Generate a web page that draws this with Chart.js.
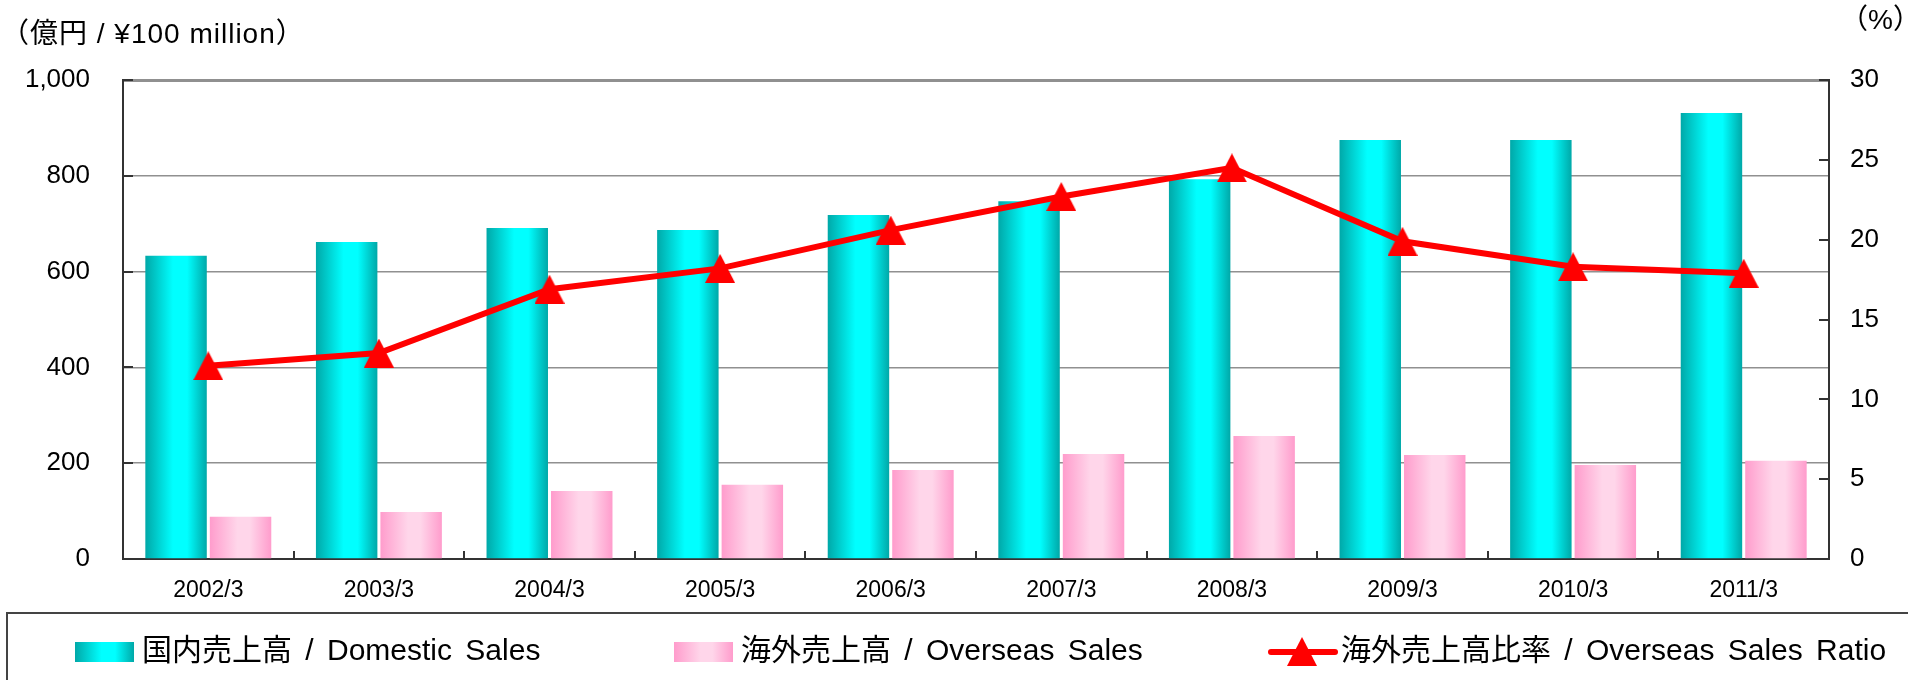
<!DOCTYPE html>
<html>
<head>
<meta charset="utf-8">
<script src="https://cdn.jsdelivr.net/npm/chart.js@4/dist/chart.umd.min.js"></script>
<style>
  body {
    margin: 0;
    width: 1908px;
    height: 680px;
    overflow: hidden;
    position: relative;
    background: #fff;
    font-family: "Liberation Sans", "Noto Sans CJK JP", sans-serif;
    color: #000;
  }
  #salesChart { position: absolute; left: 0; top: 0; }
  .note { position: absolute; font-size: 28px; line-height: 28px; white-space: nowrap; }
  #legendBox {
    position: absolute;
    left: 6px;
    top: 612px;
    width: 1960px;
    height: 120px;
    border: 2px solid #444;
    box-sizing: border-box;
  }
  .item { position: absolute; top: 635px; font-size: 30px; line-height: 30px; word-spacing: 5px; white-space: nowrap; }
  .swatch { position: absolute; top: 642px; width: 59px; height: 20px; }
</style>
</head>
<body>
<canvas id="salesChart" width="1908" height="680"></canvas>

<div class="note" style="left:1px; top:20px; letter-spacing:1px;">（億円 / ¥100 million）</div>
<div class="note" style="left:1840px; top:6px;">（%）</div>

<div id="legendBox"></div>
<div class="swatch" style="left:75px; background:linear-gradient(90deg,#00a8a8 0%,#00ffff 45%,#00ffff 68%,#00a8a8 100%);"></div>
<div class="item" style="left:142px;">国内売上高 / Domestic Sales</div>
<div class="swatch" style="left:674px; background:linear-gradient(90deg,#ff9ccc 0%,#ffd6ea 45%,#ffd6ea 65%,#ff9ccc 100%);"></div>
<div class="item" style="left:741px;">海外売上高 / Overseas Sales</div>
<svg style="position:absolute; left:1268px; top:636px;" width="70" height="32">
  <line x1="3" y1="16" x2="67" y2="16" stroke="#ff0000" stroke-width="6" stroke-linecap="round"/>
  <polygon points="34,1 49,30 19,30" fill="#ff0000"/>
</svg>
<div class="item" style="left:1341px;">海外売上高比率 / Overseas Sales Ratio</div>

<script>
const categories = ["2002/3", "2003/3", "2004/3", "2005/3", "2006/3", "2007/3", "2008/3", "2009/3", "2010/3", "2011/3"];
const domesticSales = [633, 662, 691, 687, 718, 747, 793, 875, 875, 931];
const overseasSales = [88, 98, 142, 155, 186, 219, 257, 217, 196, 205];
const overseasRatio = [12.1, 12.9, 16.9, 18.2, 20.6, 22.7, 24.5, 19.9, 18.3, 17.9];
const salesTicks = [0, 200, 400, 600, 800, 1000];
const ratioTicks = [0, 5, 10, 15, 20, 25, 30];

const catPct = 0.756;
const barPct = 0.953;

const barStops = [
  [[0, "#00a8a8"], [0.45, "#00ffff"], [0.68, "#00ffff"], [1, "#00a8a8"]],
  [[0, "#ff9ccc"], [0.45, "#ffd6ea"], [0.65, "#ffd6ea"], [1, "#ff9ccc"]]
];

// horizontal shading for each bar, placed from the x scale
function shade(c, di) {
  const chart = c.chart;
  const x = chart.scales.x;
  if (!x || c.type !== "data" || !(x.width > 0)) return barStops[di][1][1];
  const cw = x.width / categories.length;
  const slot = cw * catPct / 2;
  const w = slot * barPct;
  const left = x.getPixelForValue(c.dataIndex) - cw * catPct / 2 + di * slot + (slot - w) / 2;
  if (!isFinite(left) || !isFinite(w)) return barStops[di][1][1];
  const g = chart.ctx.createLinearGradient(left, 0, left + w, 0);
  barStops[di].forEach(s => g.addColorStop(s[0], s[1]));
  return g;
}

// triangle marker, centred on its box
const tri = document.createElement("canvas");
tri.width = 30;
tri.height = 29;
const tctx = tri.getContext("2d");
tctx.fillStyle = "#ff0000";
tctx.beginPath();
tctx.moveTo(15, 0);
tctx.lineTo(30, 29);
tctx.lineTo(0, 29);
tctx.closePath();
tctx.fill();

// short tick marks that point into the plot
const innerTicks = {
  id: "innerTicks",
  afterDraw(chart) {
    const ctx = chart.ctx;
    const { x, y, y1 } = chart.scales;
    const area = chart.chartArea;
    ctx.save();
    ctx.strokeStyle = "#333";
    ctx.lineWidth = 2;
    ctx.beginPath();
    salesTicks.forEach(v => {
      const py = Math.round(y.getPixelForValue(v));
      ctx.moveTo(area.left, py);
      ctx.lineTo(area.left + 10, py);
    });
    ratioTicks.forEach(v => {
      const py = Math.round(y1.getPixelForValue(v));
      ctx.moveTo(area.right - 10, py);
      ctx.lineTo(area.right, py);
    });
    const cw = x.width / categories.length;
    for (let i = 1; i < categories.length; i++) {
      const px = Math.round(x.getPixelForValue(i) - cw / 2);
      ctx.moveTo(px, area.bottom);
      ctx.lineTo(px, area.bottom - 8);
    }
    ctx.stroke();
    ctx.restore();
  }
};

new Chart(document.getElementById("salesChart"), {
  type: "bar",
  data: {
    labels: categories,
    datasets: [
      {
        type: "line",
        label: "海外売上高比率 / Overseas Sales Ratio",
        data: overseasRatio,
        yAxisID: "y1",
        borderColor: "#ff0000",
        backgroundColor: "#ff0000",
        borderWidth: 6,
        pointStyle: tri,
        pointRadius: 15,
        pointHoverRadius: 15,
        tension: 0,
        order: 0
      },
      {
        label: "国内売上高 / Domestic Sales",
        data: domesticSales,
        yAxisID: "y",
        backgroundColor: c => shade(c, 0),
        borderWidth: 0,
        categoryPercentage: catPct,
        barPercentage: barPct,
        order: 1
      },
      {
        label: "海外売上高 / Overseas Sales",
        data: overseasSales,
        yAxisID: "y",
        backgroundColor: c => shade(c, 1),
        borderWidth: 0,
        categoryPercentage: catPct,
        barPercentage: barPct,
        order: 2
      }
    ]
  },
  options: {
    responsive: false,
    animation: false,
    locale: "en-US",
    layout: { padding: { top: 80, left: 0, right: 0, bottom: 0 } },
    plugins: {
      legend: { display: false },
      tooltip: { enabled: false }
    },
    scales: {
      x: {
        offset: true,
        grid: { display: false, drawTicks: false },
        border: { display: true, color: "#333", width: 2 },
        ticks: {
          color: "#000",
          padding: 18,
          maxRotation: 0,
          font: { family: "Liberation Sans", size: 23 }
        },
        afterFit: s => { s.height = 121; }
      },
      y: {
        position: "left",
        min: 0,
        max: 1000,
        afterBuildTicks: s => { s.ticks = salesTicks.map(v => ({ value: v })); },
        grid: {
          color: "#909090",
          lineWidth: c => (c.tick && c.tick.value === 1000 ? 3 : 1.5),
          drawTicks: false
        },
        border: { display: true, color: "#333", width: 2 },
        ticks: {
          color: "#000",
          padding: 33,
          font: { family: "Liberation Sans", size: 26 }
        },
        afterFit: s => { s.width = 123; }
      },
      y1: {
        position: "right",
        min: 0,
        max: 30,
        afterBuildTicks: s => { s.ticks = ratioTicks.map(v => ({ value: v })); },
        grid: { drawOnChartArea: false, drawTicks: false },
        border: { display: true, color: "#333", width: 2 },
        ticks: {
          color: "#000",
          padding: 21,
          font: { family: "Liberation Sans", size: 26 }
        },
        afterFit: s => { s.width = 79; }
      }
    }
  },
  plugins: [innerTicks]
});
</script>
</body>
</html>
